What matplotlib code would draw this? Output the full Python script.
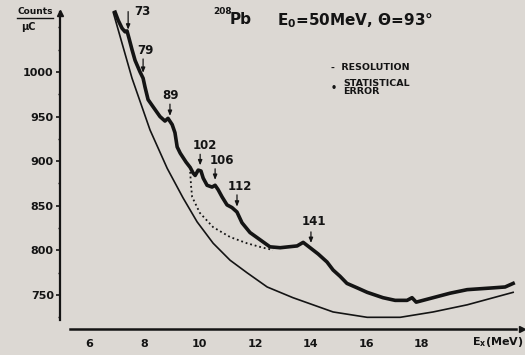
import numpy as np
import matplotlib
matplotlib.use('Agg')
import matplotlib.pyplot as plt
from matplotlib.lines import Line2D

# measured spectrum (thick curve with statistical error)
energy = [6.94, 7.05, 7.19, 7.30, 7.37, 7.44, 7.55, 7.66, 7.84, 7.95,
          8.02, 8.13, 8.31, 8.56, 8.74, 8.85, 9.00, 9.10, 9.18, 9.29,
          9.50, 9.65, 9.75, 9.83, 9.94, 10.04, 10.12, 10.26, 10.44, 10.55,
          10.66, 10.80, 10.98, 11.16, 11.34, 11.52, 11.81, 12.17, 12.53, 12.90,
          13.20, 13.51, 13.73, 13.98, 14.27, 14.59, 14.81, 15.06, 15.31, 15.68,
          16.04, 16.61, 17.05, 17.48, 17.66, 17.81, 18.42, 19.03, 19.65, 20.58,
          21.02, 21.31]
counts = [1067, 1058, 1049, 1045, 1046, 1038, 1025, 1013, 1000, 993,
          983, 969, 961, 950, 945, 948, 941, 932, 916, 909,
          899, 893, 887, 884, 890, 889, 881, 873, 871, 873,
          868, 860, 851, 848, 843, 831, 820, 812, 804, 803,
          804, 805, 809, 803, 796, 787, 778, 771, 763, 758,
          753, 747, 744, 744, 747, 742, 747, 752, 756, 758,
          759, 763]

# smooth background curve
bg_energy = [6.87, 7.55, 8.20, 8.82, 9.39, 9.90, 10.48, 11.09, 11.70, 12.43,
             13.36, 14.81, 16.04, 17.23, 18.42, 19.65, 21.31]
bg_counts = [1067, 993, 935, 892, 859, 832, 808, 789, 775, 759,
             747, 731, 725, 725, 731, 739, 753]

# dotted curve
dot_energy = [9.65, 9.68, 9.72, 10.00, 10.48, 11.09, 11.70, 12.28, 12.64]
dot_counts = [888, 873, 860, 842, 826, 815, 808, 803, 800.5]

# peak markers
peak_energy = [7.41, 7.95, 8.92, 10.01, 10.55, 11.34, 14.01]
peak_labels = ['73', '79', '89', '102', '106', '112', '141']

xticks = [6, 8, 10, 12, 14, 16, 18]
yticks = [750, 800, 850, 900, 950, 1000]

ink = '#141414'
paper = '#dcd8d3'

fig = plt.figure(figsize=(5.25, 3.55), dpi=100, facecolor=paper)
ax = fig.add_axes([60 / 525, 26 / 355, 462 / 525, 321 / 355])
ax.set_facecolor(paper)
ax.set_xlim(4.95, 21.63)
ax.set_ylim(711.9, 1071.7)

ax.plot(bg_energy, bg_counts, color=ink, lw=1.2)
ax.plot(dot_energy, dot_counts, color=ink, lw=1.3, ls=(0, (1, 1.6)))
ax.plot(energy, counts, color=ink, lw=2.6, solid_joinstyle='round')

# peak arrows and labels
label_dx = [10, 1.5, 0.5, 3.5, 5, 2, 2]
label_dy = [13, 16, 15, 14.5, 14, 14.5, 15.5]
arrow_len = [13, 10, 8.5, 8, 8, 8.5, 8]
for e, lbl, dx, dy, al in zip(peak_energy, peak_labels, label_dx, label_dy, arrow_len):
    tip = np.interp(e, energy, counts) + 6
    ax.annotate('', xy=(e, tip), xytext=(0, al), textcoords='offset points',
                arrowprops=dict(arrowstyle='-|>,head_width=0.12,head_length=0.3',
                                color=ink, lw=0.9, shrinkA=0, shrinkB=0))
    ax.annotate(lbl, xy=(e, tip), xytext=(dx, dy), textcoords='offset points',
                ha='center', va='center', fontsize=8.5, fontweight='bold', color=ink)

# axes styling
for s in ['top', 'right']:
    ax.spines[s].set_visible(False)
ax.spines['left'].set_bounds(722, 1067)
ax.spines['bottom'].set_bounds(5.31, 21.4)
ax.spines['left'].set_linewidth(1.6)
ax.spines['bottom'].set_linewidth(1.8)
ax.spines['left'].set_color(ink)
ax.spines['bottom'].set_color(ink)
ax.plot([1.0], [0], marker='>', ms=5, color=ink, transform=ax.transAxes, clip_on=False)
ax.plot([0], [0.985], marker='^', ms=4, color=ink, transform=ax.transAxes, clip_on=False)

ax.set_xticks(xticks)
ax.set_yticks(yticks)
ax.set_yticks(np.arange(725, 1075, 25), minor=True)
ax.tick_params(axis='x', length=0, pad=7, labelsize=8, colors=ink)
ax.tick_params(axis='y', which='major', length=3, width=1.2, pad=1.5, labelsize=8, colors=ink)
ax.tick_params(axis='y', which='minor', length=1.5, width=1.0, colors=ink)
for t in ax.get_xticklabels() + ax.get_yticklabels():
    t.set_fontweight('bold')

# axis labels
fig.text(498 / 525, 1 - 342 / 355, r'E$_\mathbf{x}$(MeV)', ha='center', va='center',
         fontsize=8, fontweight='bold', color=ink)
fig.text(35 / 525, 1 - 12 / 355, 'Counts', ha='center', va='center',
         fontsize=6.5, fontweight='bold', color=ink)
fig.add_artist(Line2D([17 / 525, 53 / 525], [1 - 17.5 / 355, 1 - 17.5 / 355],
                      color=ink, lw=1.0))
fig.text(28 / 525, 1 - 27 / 355, 'μC', ha='center', va='center',
         fontsize=7, fontweight='bold', color=ink)

# title
fig.text(213 / 525, 1 - 11 / 355, '208', ha='left', va='center',
         fontsize=6.5, fontweight='bold', color=ink)
fig.text(230 / 525, 1 - 20 / 355, 'Pb', ha='left', va='center',
         fontsize=11, fontweight='bold', color=ink)
fig.text(277 / 525, 1 - 21 / 355, 'E$_\\mathbf{0}$=50MeV, Θ=93°', ha='left', va='center',
         fontsize=11, fontweight='bold', color=ink)

# legend
fig.text(331 / 525, 1 - 67 / 355, '-  RESOLUTION', ha='left', va='center',
         fontsize=6.8, fontweight='bold', color=ink)
fig.text(331 / 525, 1 - 88 / 355, '•', ha='left', va='center',
         fontsize=7, fontweight='bold', color=ink)
fig.text(343 / 525, 1 - 87.5 / 355, 'STATISTICAL\nERROR', ha='left', va='center',
         fontsize=6.8, fontweight='bold', color=ink, linespacing=0.95)

fig.savefig('out.png', dpi=100, facecolor=paper)
